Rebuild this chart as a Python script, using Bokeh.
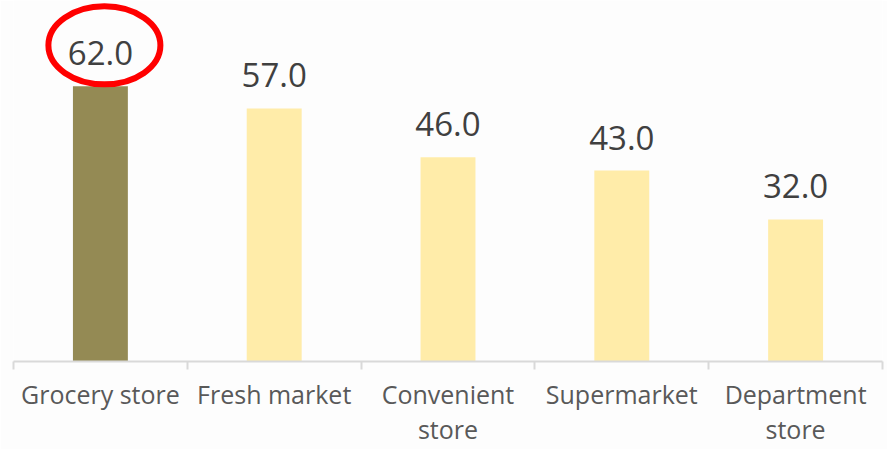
from bokeh.plotting import figure
from bokeh.models import Range1d, FixedTicker, ColumnDataSource
from bokeh.core.properties import value
from bokeh.embed import file_html
from bokeh.resources import INLINE

categories = ["Grocery store", "Fresh market", "Convenient\nstore", "Supermarket", "Department\nstore"]
values = [62.0, 57.0, 46.0, 43.0, 32.0]
colors = ["#948a54", "#ffeca9", "#ffeca9", "#ffeca9", "#ffeca9"]
labels = [f"{v:.1f}" for v in values]
highlight = 0

xs = [i + 0.5 for i in range(len(categories))]
src = ColumnDataSource(dict(x=xs, top=values, color=colors, label=labels))

p = figure(width=887, height=449, output_backend="svg", toolbar_location=None,
           x_range=Range1d(0, len(categories)), y_range=Range1d(0, 81.3),
           min_border_left=13, min_border_right=5, min_border_top=0, min_border_bottom=88)
p.background_fill_color = "#fdfdfd"
p.border_fill_color = "#fdfdfd"
p.outline_line_color = None
p.grid.visible = False
p.yaxis.visible = False

p.vbar(x="x", top="top", bottom=0, width=0.316, color="color", line_color=None, source=src)

p.text(x="x", y="top", text="label", source=src, text_align="center",
       text_baseline="alphabetic", y_offset=-33, text_font=value("Open Sans"),
       text_font_size="33px", text_color="#404040")

p.ellipse(x=[xs[highlight] + 0.023], y=[values[highlight] + 9.2], width=112, height=78,
          width_units="screen", height_units="screen", fill_color=None,
          line_color="#ff0000", line_width=6)

ax = p.xaxis[0]
ax.ticker = FixedTicker(ticks=xs, minor_ticks=list(range(len(categories) + 1)))
ax.major_label_overrides = {x: c for x, c in zip(xs, categories)}
ax.major_tick_line_color = None
ax.major_tick_out = 6
ax.minor_tick_line_color = "#d9d9d9"
ax.minor_tick_out = 8
ax.minor_tick_in = 0
ax.axis_line_color = "#d9d9d9"
ax.axis_line_width = 2
ax.minor_tick_line_width = 2
ax.major_label_text_font = "Open Sans"
ax.major_label_text_font_size = "25px"
ax.major_label_text_color = "#595959"
ax.major_label_standoff = 7
ax.major_label_text_line_height = 1.03

open("out.html", "w").write(file_html(p, INLINE))
